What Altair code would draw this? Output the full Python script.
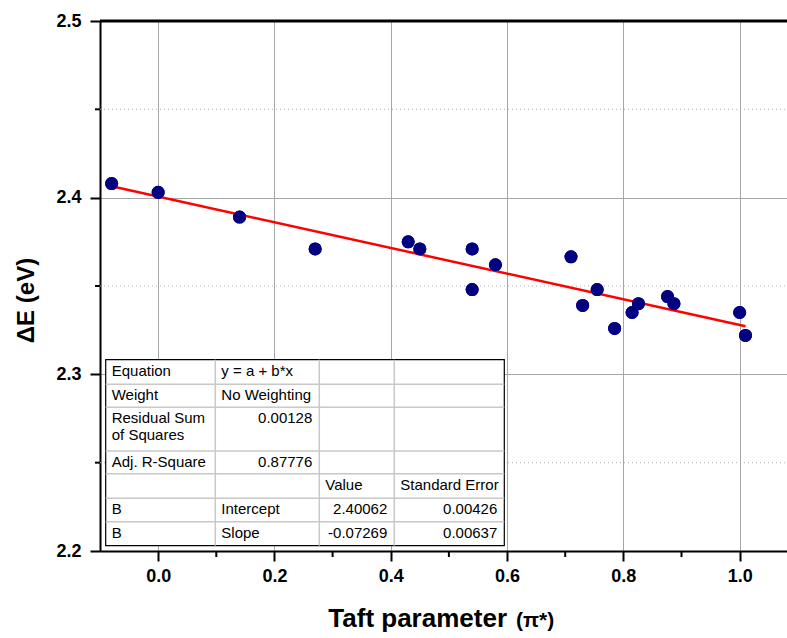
import altair as alt
import pandas as pd

# ---- data ----
taft = [-0.08, 0.0, 0.14, 0.27, 0.43, 0.45, 0.54, 0.54, 0.58, 0.71, 0.73, 0.755,
        0.785, 0.815, 0.826, 0.876, 0.887, 1.0, 1.01]
delta_e = [2.408, 2.403, 2.389, 2.371, 2.375, 2.371, 2.371, 2.348, 2.362, 2.3665,
           2.339, 2.348, 2.326, 2.335, 2.340, 2.344, 2.340, 2.335, 2.322]

fit_intercept = 2.40062
fit_slope = -0.07269
fit_x = [-0.08, 1.01]

x_major = [0.0, 0.2, 0.4, 0.6, 0.8, 1.0]
x_minor = [0.1, 0.3, 0.5, 0.7, 0.9]
y_major = [2.2, 2.3, 2.4, 2.5]
y_minor = [2.25, 2.35, 2.45]

table_rows = [
    ["Equation", "y = a + b*x", "", ""],
    ["Weight", "No Weighting", "", ""],
    ["Residual Sum\nof Squares", "0.00128", "", ""],
    ["Adj. R-Square", "0.87776", "", ""],
    ["", "", "Value", "Standard Error"],
    ["B", "Intercept", "2.40062", "0.00426"],
    ["B", "Slope", "-0.07269", "0.00637"],
]

x_title_main = "Taft parameter"
x_title_sym = "(π*)"

# ---- layout (pixels inside the plot area) ----
W, H = 687, 530
col_edges = [5.7, 115.3, 219.3, 294.3, 404.3]
row_edges = [338.7, 363.3, 386.3, 430.0, 452.7, 477.3, 500.7, 524.7]
FONT = "Liberation Sans"

xscale = alt.Scale(domain=[-0.1, -0.1 + W / 581.5], nice=False, zero=False)
yscale = alt.Scale(domain=[2.2, 2.5], nice=False, zero=False)

pts = pd.DataFrame({"x": taft, "y": delta_e})
fit = pd.DataFrame({"x": fit_x, "y": [fit_intercept + fit_slope * v for v in fit_x]})

base_x = alt.X("x:Q", scale=xscale, axis=alt.Axis(
    values=x_major, format=".1f", labelFont=FONT, labelFontWeight="bold",
    labelFontSize=18, labelColor="black", labelPadding=6,
    tickSize=10, tickWidth=2, tickColor="black",
    domainWidth=2, domainColor="black",
    grid=True, gridColor="#a6a6a6", gridWidth=1, title=None))
base_y = alt.Y("y:Q", scale=yscale, axis=alt.Axis(
    values=y_major, format=".1f", labelFont=FONT, labelFontWeight="bold",
    labelFontSize=18, labelColor="black", labelPadding=9,
    tickSize=10, tickWidth=2, tickColor="black",
    domainWidth=2, domainColor="black",
    grid=True, gridColor="#a6a6a6", gridWidth=1,
    title="ΔE (eV)", titleFont=FONT, titleFontWeight="bold",
    titleFontSize=24, titleColor="black", titleX=-67, titleY=279,
    titleAngle=-90, titleAlign="center", titleBaseline="alphabetic"))

points = alt.Chart(pts).mark_circle(size=170, color="#000080", opacity=1).encode(
    x=base_x, y=base_y)

line = alt.Chart(fit).mark_line(color="#ff0000", strokeWidth=2.5).encode(
    x=alt.X("x:Q", scale=xscale), y=alt.Y("y:Q", scale=yscale))

minor_grid = alt.Chart(pd.DataFrame({"y": y_minor})).mark_rule(
    color="#b0b0b0", strokeWidth=1, strokeDash=[1, 3]).encode(
    y=alt.Y("y:Q", scale=yscale), x=alt.value(0), x2=alt.value(W))

minor_xt = alt.Chart(pd.DataFrame({"x": x_minor})).mark_rule(
    color="black", strokeWidth=2).encode(
    x=alt.X("x:Q", scale=xscale), y=alt.value(H), y2=alt.value(H + 6))

minor_yt = alt.Chart(pd.DataFrame({"y": y_minor})).mark_rule(
    color="black", strokeWidth=2).encode(
    y=alt.Y("y:Q", scale=yscale), x=alt.value(-5), x2=alt.value(0))

top_border = alt.Chart(pd.DataFrame({"a": [0]})).mark_rule(
    color="black", strokeWidth=3).encode(
    x=alt.value(0), x2=alt.value(W), y=alt.value(0))

# ---- x-axis title with a smaller symbol part ----
title_main = alt.Chart(pd.DataFrame({"t": [x_title_main]})).mark_text(
    align="right", baseline="alphabetic", font=FONT, fontWeight="bold",
    fontSize=26, color="black").encode(
    x=alt.value(407), y=alt.value(H + 76), text="t:N")
title_sym = alt.Chart(pd.DataFrame({"t": [x_title_sym]})).mark_text(
    align="left", baseline="alphabetic", font=FONT, fontWeight="bold",
    fontSize=21, color="black").encode(
    x=alt.value(416), y=alt.value(H + 76), text="t:N")

# ---- fit table ----
frame = alt.Chart(pd.DataFrame({
    "x0": [col_edges[0]], "x1": [col_edges[-1]],
    "y0": [row_edges[0]], "y1": [row_edges[-1]]})).mark_rect(
    fill="white", stroke="black", strokeWidth=1.2).encode(
    x=alt.X("x0:Q", scale=None), x2="x1:Q",
    y=alt.Y("y0:Q", scale=None), y2="y1:Q")

segs = []
for c in col_edges[1:-1]:
    segs.append({"x0": c, "x1": c, "y0": row_edges[0], "y1": row_edges[-1]})
for r in row_edges[1:-1]:
    segs.append({"x0": col_edges[0], "x1": col_edges[-1], "y0": r, "y1": r})
inner = alt.Chart(pd.DataFrame(segs)).mark_rule(
    color="#c8c8c8", strokeWidth=1.5).encode(
    x=alt.X("x0:Q", scale=None), x2="x1:Q",
    y=alt.Y("y0:Q", scale=None), y2="y1:Q")


def is_num(s):
    try:
        float(s)
        return True
    except ValueError:
        return False


left_cells, right_cells = [], []
for ri, row in enumerate(table_rows):
    for ci, txt in enumerate(row):
        if not txt:
            continue
        yb = row_edges[ri] + 16
        if is_num(txt):
            right_cells.append({"px": col_edges[ci + 1] - 7, "py": yb, "t": txt})
        else:
            left_cells.append({"px": col_edges[ci] + 6, "py": yb, "t": txt})

text_left = alt.Chart(pd.DataFrame(left_cells)).mark_text(
    align="left", baseline="alphabetic", font=FONT, fontSize=15,
    color="black", lineBreak="\n", lineHeight=16.5).encode(
    x=alt.X("px:Q", scale=None), y=alt.Y("py:Q", scale=None), text="t:N")
text_right = alt.Chart(pd.DataFrame(right_cells)).mark_text(
    align="right", baseline="alphabetic", font=FONT, fontSize=15,
    color="black").encode(
    x=alt.X("px:Q", scale=None), y=alt.Y("py:Q", scale=None), text="t:N")

chart = alt.layer(
    points, minor_grid, frame, inner, text_left, text_right, line, points,
    minor_xt, minor_yt, top_border, title_main, title_sym
).properties(
    width=W, height=H,
    autosize=alt.AutoSizeParams(type="none"),
    padding={"left": 100, "top": 21, "right": 0, "bottom": 87},
    background="white",
).configure_view(stroke=None)

chart.save("out.html", embed_options={"renderer": "svg", "actions": False})
